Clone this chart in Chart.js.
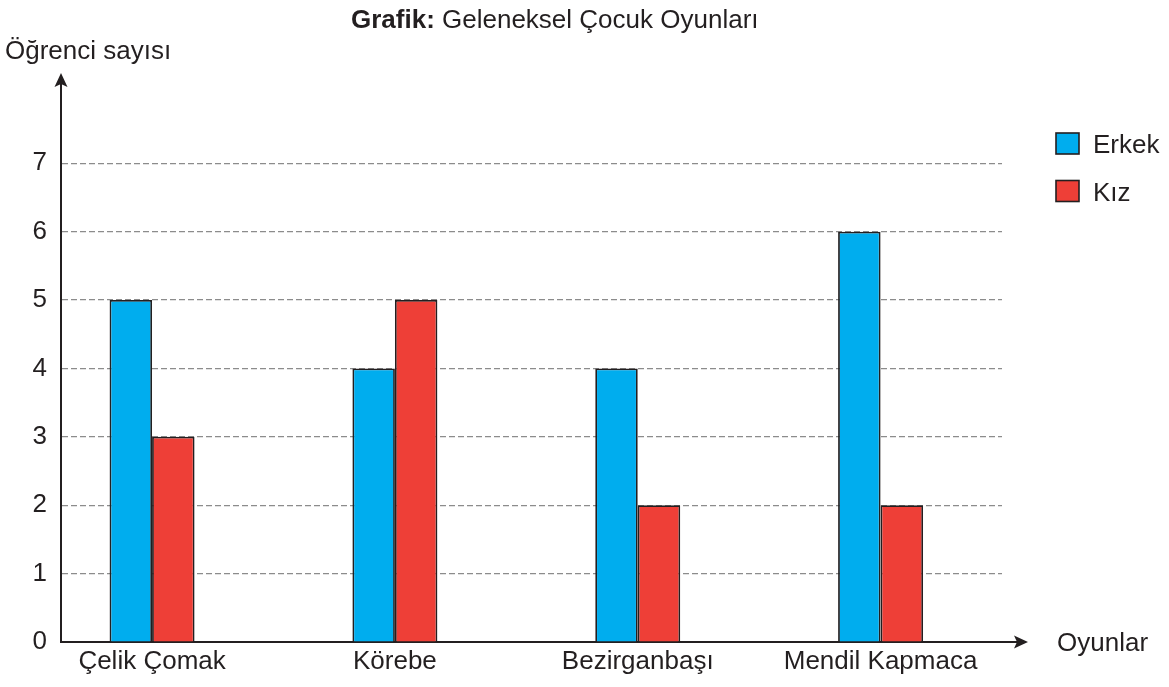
<!DOCTYPE html>
<html>
<head>
    <meta charset="utf-8">
    <title>Geleneksel Çocuk Oyunları</title>
    <script src="https://cdn.jsdelivr.net/npm/chart.js"></script>
    <style>
        html, body { margin: 0; padding: 0; background: #fff; }
        #wrap { width: 1169px; height: 687px; }
    </style>
</head>
<body>
    <div id="wrap"><canvas id="barChart"></canvas></div>

    <script>
        // data
        const categories = ['Çelik Çomak', 'Körebe', 'Bezirganbaşı', 'Mendil Kapmaca'];
        const erkek = [5, 4, 4, 6];
        const kiz = [3, 5, 2, 2];
        const seriesNames = ['Erkek', 'Kız'];
        const yTicks = [0, 1, 2, 3, 4, 5, 6, 7];

        const FONT = "'Liberation Sans', Arial, sans-serif";
        const INK = '#231f20';
        const BLUE = '#00adee';
        const RED = '#ee3f37';

        // title, y label, arrows and legend drawn on top of the chart
        const extras = {
            id: 'extras',
            afterDraw(chart) {
                const ctx = chart.ctx;
                const a = chart.chartArea;
                ctx.save();
                ctx.fillStyle = INK;
                ctx.textBaseline = 'alphabetic';
                ctx.textAlign = 'left';

                // title
                ctx.font = 'bold 26px ' + FONT;
                let x = 351;
                ctx.fillText('Grafik:', x, 28);
                x += ctx.measureText('Grafik:').width;
                ctx.font = '26px ' + FONT;
                ctx.fillText(' Geleneksel Çocuk Oyunları', x, 28);

                // axis names
                ctx.fillText('Öğrenci sayısı', 5, 59);
                ctx.fillText('Oyunlar', 1057, 651);

                // arrows
                ctx.strokeStyle = INK;
                ctx.lineWidth = 2;
                ctx.beginPath();
                ctx.moveTo(a.right - 1, a.bottom);
                ctx.lineTo(1018, a.bottom);
                ctx.moveTo(a.left, a.top + 1);
                ctx.lineTo(a.left, 84);
                ctx.stroke();
                ctx.beginPath();
                ctx.moveTo(1028, a.bottom);
                ctx.lineTo(1014, a.bottom - 6.5);
                ctx.lineTo(1017, a.bottom);
                ctx.lineTo(1014, a.bottom + 6.5);
                ctx.closePath();
                ctx.fill();
                ctx.beginPath();
                ctx.moveTo(a.left, 73);
                ctx.lineTo(a.left - 6.5, 87);
                ctx.lineTo(a.left, 84);
                ctx.lineTo(a.left + 6.5, 87);
                ctx.closePath();
                ctx.fill();

                // legend
                chart.data.datasets.forEach((ds, i) => {
                    const top = 133 + i * 47.5;
                    ctx.fillStyle = ds.backgroundColor;
                    ctx.fillRect(1056, top, 23, 21);
                    ctx.strokeStyle = INK;
                    ctx.lineWidth = 1.6;
                    ctx.strokeRect(1056, top, 23, 21);
                    ctx.fillStyle = INK;
                    ctx.fillText(ds.label, 1093, top + 20);
                });
                ctx.restore();
            }
        };

        const ctx = document.getElementById('barChart').getContext('2d');
        new Chart(ctx, {
            type: 'bar',
            data: {
                datasets: [{
                    label: seriesNames[0],
                    data: categories.map((c, i) => ({ x: i, y: erkek[i] })),
                    backgroundColor: BLUE,
                    borderColor: INK,
                    borderWidth: 1.8
                }, {
                    label: seriesNames[1],
                    data: categories.map((c, i) => ({ x: i, y: kiz[i] })),
                    backgroundColor: RED,
                    borderColor: INK,
                    borderWidth: 1.8
                }]
            },
            options: {
                responsive: true,
                maintainAspectRatio: false,
                animation: false,
                categoryPercentage: 0.35,
                barPercentage: 1,
                layout: { padding: { top: 88, right: 167, left: 0, bottom: 0 } },
                plugins: {
                    legend: { display: false },
                    title: { display: false },
                    tooltip: { enabled: false }
                },
                scales: {
                    x: {
                        type: 'linear',
                        offset: false,
                        min: -0.375,
                        max: 3.5,
                        afterBuildTicks: s => { s.ticks = categories.map((c, i) => ({ value: i })); },
                        afterFit: s => { s.height = 45; },
                        grid: { display: false, drawTicks: false, offset: false },
                        border: { display: true, color: INK, width: 2 },
                        ticks: {
                            autoSkip: false,
                            maxRotation: 0,
                            padding: 4,
                            color: INK,
                            font: { family: FONT, size: 26 },
                            callback: v => categories[v]
                        }
                    },
                    y: {
                        min: 0,
                        max: 8.1,
                        afterBuildTicks: s => { s.ticks = yTicks.map(v => ({ value: v })); },
                        afterFit: s => { s.width = 61; },
                        grid: {
                            drawTicks: false,
                            color: c => c.tick && c.tick.value === 0 ? 'rgba(0,0,0,0)' : '#8c8c8c',
                            lineWidth: 1.2
                        },
                        border: { display: true, color: INK, width: 2, dash: [6, 3] },
                        ticks: {
                            padding: 14,
                            color: INK,
                            font: { family: FONT, size: 26 }
                        }
                    }
                }
            },
            plugins: [extras]
        });
    </script>
</body>
</html>
